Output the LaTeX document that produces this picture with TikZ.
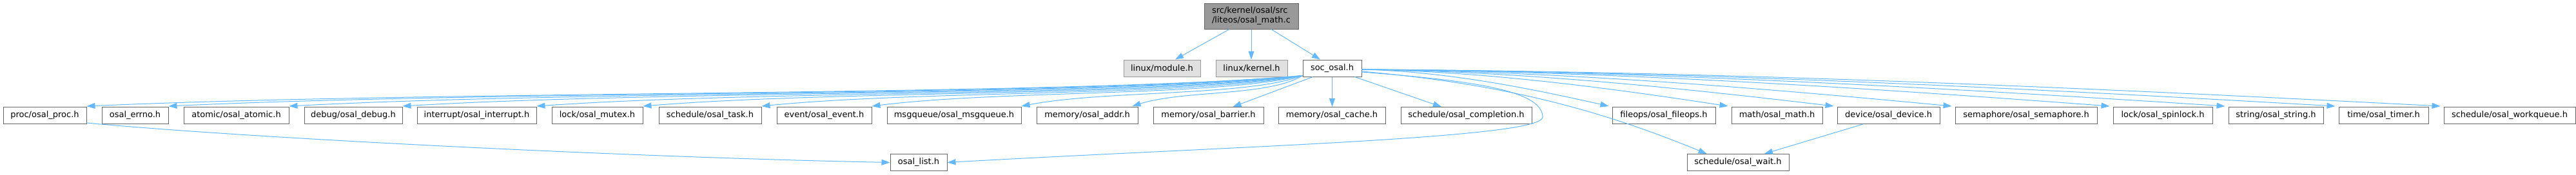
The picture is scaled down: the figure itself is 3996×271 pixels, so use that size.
\documentclass[tikz,border=0pt]{standalone}
\usepackage{fontspec}
\setmainfont{DejaVu Sans}
\usetikzlibrary{arrows.meta,calc}
\definecolor{edgeblue}{HTML}{63B8FF}
\definecolor{bordergray}{HTML}{666666}
\definecolor{maingray}{HTML}{999999}
\definecolor{extgray}{HTML}{E0E0E0}
\begin{document}
\begin{tikzpicture}[x=1pt,y=1pt,
  box/.style={draw=bordergray, fill=white, line width=1pt, inner sep=0pt,
    minimum height=26pt, font=\fontsize{13}{15}\selectfont, text=black},
  extbox/.style={box, draw=maingray, fill=extgray},
  mainbox/.style={box, fill=maingray, minimum height=40pt, align=left},
  edge/.style={draw=edgeblue, line width=1pt, -{Triangle[length=13pt,width=9pt]}}]
\useasboundingbox (0,0) rectangle (3996,-271);
% top
\node[mainbox, minimum width=146pt] (main) at (1941,-25) {src/kernel/osal/src\\/liteos/osal\_math.c};
% row 2
\node[extbox, minimum width=119pt] (module) at (1802.5,-106) {linux/module.h};
\node[extbox, minimum width=111pt] (kernel) at (1941.5,-106) {linux/kernel.h};
\node[box, minimum width=91pt] (soc) at (2066.5,-106) {soc\_osal.h};
% row 3
\node[box, minimum width=129pt] (proc) at (69.5,-179.5) {proc/osal\_proc.h};
\node[box, minimum width=103pt] (errno) at (209.5,-179.5) {osal\_errno.h};
\node[box, minimum width=163pt] (atomic) at (366.5,-179.5) {atomic/osal\_atomic.h};
\node[box, minimum width=152pt] (debug) at (548,-179.5) {debug/osal\_debug.h};
\node[box, minimum width=185pt] (interrupt) at (739.5,-179.5) {interrupt/osal\_interrupt.h};
\node[box, minimum width=141pt] (mutex) at (926.5,-179.5) {lock/osal\_mutex.h};
\node[box, minimum width=159pt] (task) at (1101.5,-179.5) {schedule/osal\_task.h};
\node[box, minimum width=147pt] (event) at (1278.5,-179.5) {event/osal\_event.h};
\node[box, minimum width=208pt] (msgqueue) at (1480,-179.5) {msgqueue/osal\_msgqueue.h};
\node[box, minimum width=157pt] (addr) at (1686.5,-179.5) {memory/osal\_addr.h};
\node[box, minimum width=171pt] (barrier) at (1874.5,-179.5) {memory/osal\_barrier.h};
\node[box, minimum width=166pt] (cache) at (2066,-179.5) {memory/osal\_cache.h};
\node[box, minimum width=203pt] (completion) at (2274.5,-179.5) {schedule/osal\_completion.h};
\node[box, minimum width=160pt] (fileops) at (2581,-179.5) {fileops/osal\_fileops.h};
\node[box, minimum width=141pt] (math) at (2756.5,-179.5) {math/osal\_math.h};
\node[box, minimum width=159pt] (device) at (2929.5,-179.5) {device/osal\_device.h};
\node[box, minimum width=220pt] (semaphore) at (3143,-179.5) {semaphore/osal\_semaphore.h};
\node[box, minimum width=154pt] (spinlock) at (3355,-179.5) {lock/osal\_spinlock.h};
\node[box, minimum width=147pt] (string) at (3530.5,-179.5) {string/osal\_string.h};
\node[box, minimum width=139pt] (timer) at (3697.5,-179.5) {time/osal\_timer.h};
\node[box, minimum width=204pt] (workqueue) at (3893,-179.5) {schedule/osal\_workqueue.h};
% row 4
\node[box, minimum width=88pt] (list) at (1425,-252.5) {osal\_list.h};
\node[box, minimum width=158pt] (wait) at (2696,-252.5) {schedule/osal\_wait.h};
% edges from main
\draw[edge] ([xshift=-34pt]main.south) -- ([xshift=20.5pt]module.north);
\draw[edge] (main.south) -- (main.south |- kernel.north);
\draw[edge] ([xshift=31pt]main.south) -- ([xshift=-18.5pt]soc.north);
% left bundle
\foreach \t/\dx in {proc/0,errno/0,atomic/0,debug/0,interrupt/0,mutex/0,task/0,event/0,msgqueue/0,addr/-9}{
  \draw[edge] let \p1=([yshift=2pt]soc.south west), \p2=([xshift=\dx pt,yshift=1pt]\t.north east), \n1={\x1-\x2} in
    (\p1) .. controls (\x1-0.2*\n1, -150pt) and (\x2+0.3*\n1, -140pt) .. (\p2);
}
\draw[edge] ([xshift=-30pt]soc.south) -- ([xshift=38pt]barrier.north);
\draw[edge] (soc.south) -- (soc.south |- cache.north);
\draw[edge] ([xshift=35pt]soc.south) -- ([xshift=-38.5pt]completion.north);
% right bundle
\foreach \t in {fileops,math,device,semaphore,spinlock,string,timer,workqueue}{
  \draw[edge] let \p1=([yshift=-2pt]soc.east), \p2=([xshift=-5pt,yshift=1pt]\t.north west), \n1={\x2-\x1} in
    (\p1) .. controls (\x1+0.35*\n1, \y1-3pt) and (\x2-0.3*\n1, \y2+26pt) .. (\p2);
}
% curves to lower row
\draw[edge] ([yshift=-6pt]soc.east) .. controls +(168,-13) and (2393,-140) .. (2393,-182)
   .. controls (2393,-215) and (1900,-228) .. (list.east);
\draw[edge] ([yshift=-5pt]soc.east) .. controls (2330,-130) and (2480,-170) .. ([xshift=31pt]wait.north west);
\draw[edge] ([yshift=2pt]proc.south east) .. controls +(266,-25) and +(-381,7.5) .. (list.west);
\draw[edge] ([xshift=-39.5pt]device.south) -- ([xshift=41pt]wait.north);
\end{tikzpicture}
\end{document}
